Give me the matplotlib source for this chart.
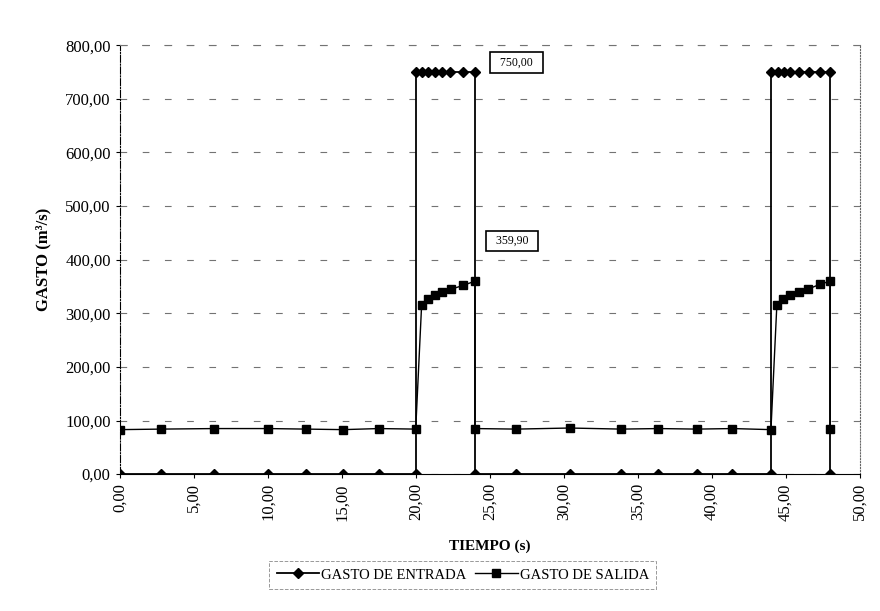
import matplotlib
matplotlib.use("Agg")
import matplotlib.pyplot as plt
from matplotlib.ticker import FuncFormatter, MultipleLocator

plt.rcParams['font.family'] = ['Liberation Serif', 'DejaVu Serif']

# GASTO DE ENTRADA
t_entrada = [0.0, 2.8, 6.4, 10.0, 12.6, 15.1, 17.5, 20.0,
             20.0, 20.4, 20.8, 21.3, 21.8, 22.3, 23.2, 24.0,
             24.0, 26.8, 30.4, 33.9, 36.4, 39.0, 41.4, 44.0,
             44.0, 44.5, 44.9, 45.3, 45.9, 46.6, 47.3, 48.0,
             48.0]
q_entrada = [0, 0, 0, 0, 0, 0, 0, 0,
             750, 750, 750, 750, 750, 750, 750, 750,
             0, 0, 0, 0, 0, 0, 0, 0,
             750, 750, 750, 750, 750, 750, 750, 750,
             0]

# GASTO DE SALIDA
t_salida = [0.0, 2.8, 6.4, 10.0, 12.6, 15.1, 17.5, 20.0,
            20.4, 20.8, 21.3, 21.8, 22.4, 23.2, 24.0,
            24.0, 26.8, 30.4, 33.9, 36.4, 39.0, 41.4, 44.0,
            44.4, 44.8, 45.3, 45.9, 46.5, 47.3, 48.0,
            48.0]
q_salida = [83, 84, 85, 85, 84, 83, 85, 84,
            316, 326, 334, 340, 345, 352, 359.9,
            85, 84, 86, 84, 85, 84, 85, 83,
            316, 326, 334, 340, 345, 354, 359.9,
            85]

annot_text = ["750,00", "359,90"]
annot_pos = [(26.8, 768), (26.5, 435)]

fig = plt.figure(figsize=(8.8, 6.11), dpi=100)
ax = fig.add_axes([0.136, 0.224, 0.841, 0.702])

ax.plot(t_entrada, q_entrada, color='black', lw=1.3, marker='D', ms=5.5,
        label='GASTO DE ENTRADA', zorder=3)
ax.plot(t_salida, q_salida, color='black', lw=1.0, marker='s', ms=6,
        label='GASTO DE SALIDA', zorder=3)

for txt, (x, y) in zip(annot_text, annot_pos):
    ax.text(x, y, "  " + txt + "  ", fontsize=8.5, ha='center', va='center',
            bbox=dict(boxstyle='square,pad=0.35', fc='white', ec='black', lw=1.2))

ax.set_xlim(0, 50)
ax.set_ylim(0, 800)
ax.xaxis.set_major_locator(MultipleLocator(5))
ax.yaxis.set_major_locator(MultipleLocator(100))
fmt = FuncFormatter(lambda v, p: f"{v:.2f}".replace('.', ','))
ax.xaxis.set_major_formatter(fmt)
ax.yaxis.set_major_formatter(fmt)
ax.tick_params(axis='x', labelrotation=90, labelsize=12, length=3)
ax.tick_params(axis='y', labelsize=12, length=3)

ax.grid(axis='y', color='0.45', linestyle=(0, (6, 14)), lw=0.8)
ax.spines['left'].set_linestyle('-.')
ax.spines['left'].set_linewidth(0.8)
ax.spines['top'].set_linestyle((0, (6, 14)))
ax.spines['top'].set_color('0.45')
ax.spines['right'].set_linestyle(':')
ax.spines['right'].set_color('0.4')
ax.spines['bottom'].set_linewidth(0.8)

ax.set_ylabel('GASTO (m³/s)', fontsize=12, fontweight='bold', labelpad=10)
ax.set_xlabel('TIEMPO (s)', fontsize=11, fontweight='bold', labelpad=14)

leg = fig.legend(loc='center', bbox_to_anchor=(0.526, 0.059), ncol=2, frameon=True,
                 fontsize=10.5, handlelength=2.9, columnspacing=0.6, handletextpad=0.15,
                 fancybox=False, borderpad=0.5, borderaxespad=0.3)
leg.get_frame().set_edgecolor('0.5')
leg.get_frame().set_linestyle('--')
leg.get_frame().set_linewidth(0.7)

fig.savefig('out.png', dpi=100)
